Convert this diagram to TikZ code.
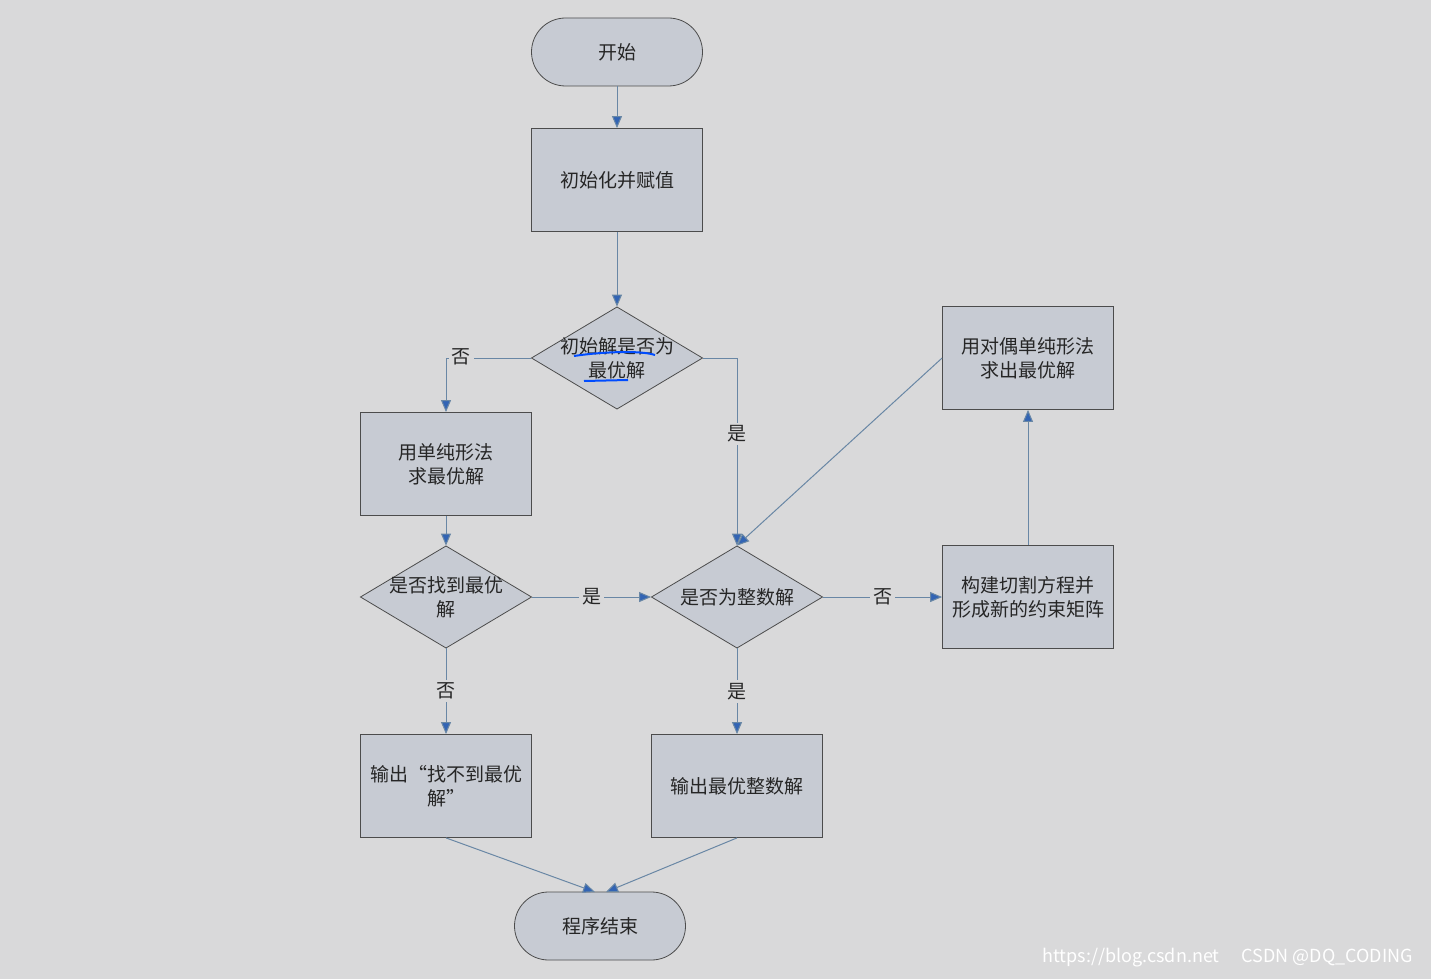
\documentclass[tikz,border=0pt]{standalone}
\usepackage{fontspec}
\setmainfont{Noto Sans CJK SC}
\usetikzlibrary{shapes.geometric,arrows.meta}
\definecolor{bg}{RGB}{217,217,218}
\definecolor{box}{RGB}{199,203,211}
\definecolor{ln}{RGB}{105,135,165}
\definecolor{ar}{RGB}{50,100,180}
\begin{document}
\begin{tikzpicture}[x=0.5pt,y=-0.5pt,
  every node/.style={font=\fontsize{9.5}{12}\selectfont, text=black!85},
  blk/.style={draw=black!70,fill=box,minimum width=85.5pt,minimum height=51.5pt,align=center,inner sep=2pt},
  term/.style={blk,rounded corners=17pt,minimum height=34pt},
  dia/.style={rectangle,minimum width=85.5pt,minimum height=51.5pt,inner sep=0pt,align=center,
    append after command={\pgfextra{\let\nm\tikzlastnode}
      [draw=black!70,fill=box] (\tikzlastnode.north) -- (\tikzlastnode.east) -- (\tikzlastnode.south) -- (\tikzlastnode.west) -- cycle}},
  con/.style={draw=ln,line width=0.5pt,-{Triangle[length=6pt,width=5pt,fill=ar]}},
  lab/.style={fill=bg,inner sep=1.5pt}]
\fill[bg] (0,0) rectangle (1431,979);
\useasboundingbox (0,0) rectangle (1431,979);
\foreach \x/\y in {617/358,446/597,737/597}
  \draw[draw=black!70,fill=box] (\x-85.5,\y) -- (\x,\y-51) -- (\x+85.5,\y) -- (\x,\y+51) -- cycle;
\node[term] (start) at (617,52) {开始};
\node[blk] (init) at (617,180) {初始化并赋值};
\node[align=center,minimum width=85.5pt,minimum height=51pt] (d1) at (617,358) {初始解是否为\\最优解};
\node[blk] (simp) at (446,464) {用单纯形法\\求最优解};
\node[align=center,minimum width=85.5pt,minimum height=51pt] (d2) at (446,597) {是否找到最优\\解};
\node[align=center,minimum width=85.5pt,minimum height=51pt] (d3) at (737,597) {是否为整数解};
\node[blk] (cut) at (1028,597) {构建切割方程并\\形成新的约束矩阵};
\node[blk] (dual) at (1028,358) {用对偶单纯形法\\求出最优解};
\node[blk] (out1) at (446,786) {输出“找不到最优\\解”};
\node[blk] (out2) at (737,786) {输出最优整数解};
\node[term] (end) at (600,926) {程序结束};
\coordinate (c1) at (446,358);
\coordinate (c2) at (737,358);
\coordinate (e1) at (595,892);
\coordinate (e2) at (606,892);
\draw[con] (start) -- (init);
\draw[con] (init) -- (d1.north);
\draw[con] (d1.west) -- (c1) -- (simp.north);
\node[lab] at (461,357) {否};
\draw[con] (d1.east) -- (c2) -- (d3.north);
\node[lab] at (737,434) {是};
\draw[con] (dual.west) -- (d3.north);
\draw[con] (simp) -- (d2.north);
\draw[con] (d2.east) -- node[lab]{是} (d3.west);
\draw[con] (d3.east) -- node[lab]{否} (cut);
\draw[con] (cut) -- (dual);
\draw[con] (d2.south) -- node[lab]{否} (out1);
\draw[con] (d3.south) -- node[lab]{是} (out2);
\draw[con] (out1.south) -- (e1);
\draw[con] (out2.south) -- (e2);
\draw[blue!70!cyan,line width=1pt] (574,356) .. controls (600,352) and (640,350) .. (655,355);
\draw[blue!70!cyan,line width=1pt] (584,381) -- (628,380);
\node[text=white,font=\fontsize{9}{10}\selectfont,anchor=east] at (1420,958) {https://blog.csdn.net \quad CSDN @DQ\_CODING};
\end{tikzpicture}
\end{document}
